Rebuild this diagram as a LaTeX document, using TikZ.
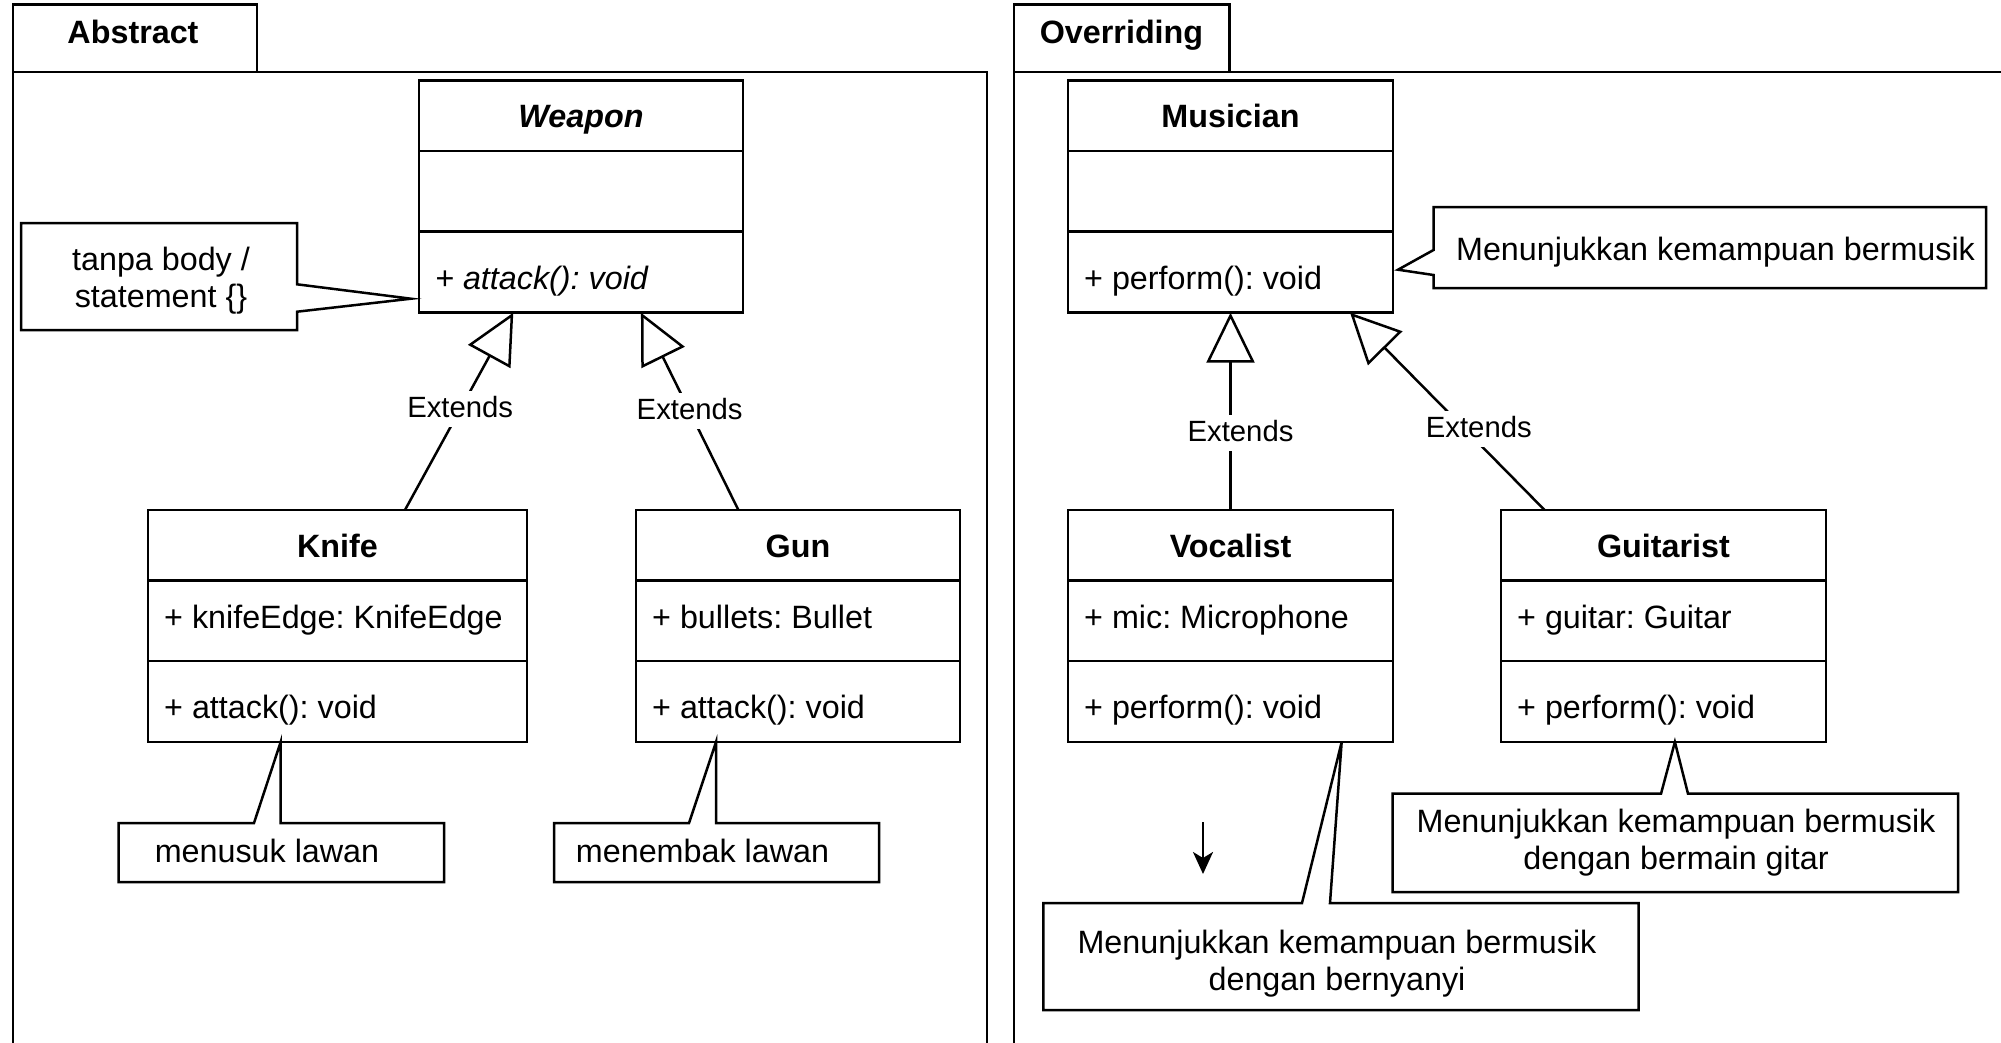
\documentclass[tikz,border=0pt]{standalone}
\usepackage{fontspec}
\setmainfont{Liberation Sans}
\usetikzlibrary{arrows.meta,calc}
\frenchspacing
% line strut: 24pt above and 8pt below the baseline
\newcommand\ls{\rule[-8pt]{0pt}{32pt}}
% one UML class: id, x, y (top left), width, title, attribute, operation
\newcommand\umlclass[7]{%
  \node[comp, minimum width=#4, minimum height=70.5] (#1-h) at (#2,#3) {};
  \node[comp, minimum width=#4, minimum height=80.5] (#1-a) at (#1-h.south west) {};
  \node[comp, minimum width=#4, minimum height=81] (#1-m) at (#1-a.south west) {};
  \node[ctitle] (#1-t) at ($(#1-h.north)+(0,47)$) {#5};
  \node[member] (#1-f) at ($(#1-h.north west)+(16,118)$) {#6};
  \node[member] (#1-o) at ($(#1-h.north west)+(16,208.5)$) {#7};
}
\begin{document}
\begin{tikzpicture}[x=1pt,y=-1pt,
  lw/.style={line width=2.5pt},
  comp/.style={draw, lw, anchor=north west, inner sep=0pt, outer sep=0pt},
  panel/.style={draw, lw, anchor=north west, inner sep=0pt, outer sep=0pt},
  txt/.style={inner sep=0pt, font=\fontsize{32.3}{37}\selectfont},
  ctitle/.style={txt, anchor=base, font=\fontsize{32.3}{37}\selectfont\bfseries},
  member/.style={txt, anchor=base west},
  notearea/.style={anchor=north west, inner sep=0pt, outer sep=0pt},
  notetext/.style={txt, align=center},
  calloutline/.style={draw, lw, line join=miter},
  ext/.style={draw, lw, -{Triangle[fill=white, length=50pt, width=48pt]}},
  extlabel/.style={fill=white, inner sep=4pt, text height=22pt, text depth=6pt,
                   font=\fontsize{29.3}{34}\selectfont},
]
\useasboundingbox (0,0) rectangle (2001,1042);
\fill[white] (0,0) rectangle (2001,1042);
\clip (0,0) rectangle (2001,1042);

% ---------- panels ----------
\node[panel, minimum width=974, minimum height=1100] (absframe) at (13,72) {};
\node[panel, minimum width=244, minimum height=67.3] (abstab) at (13,4.7) {};
\node[ctitle] (abstab-t) at (133,43.3) {Abstract};
\node[panel, minimum width=1100, minimum height=1100] (ovrframe) at (1014,72) {};
\node[panel, minimum width=215.6, minimum height=67.3] (ovrtab) at (1014,4.7) {};
\node[ctitle] (ovrtab-t) at (1121.5,43.3) {Overriding};

% ---------- classes ----------
\umlclass{weapon}{419}{80.7}{324}{\itshape Weapon}{}{\itshape + attack(): void}
\umlclass{knife}{148}{510}{379}{Knife}{+ knifeEdge: KnifeEdge}{+ attack(): void}
\umlclass{gun}{636}{510}{324}{Gun}{+ bullets: Bullet}{+ attack(): void}
\umlclass{musician}{1068}{80.7}{325}{Musician}{}{+ perform(): void}
\umlclass{vocalist}{1068}{510}{325}{Vocalist}{+ mic: Microphone}{+ perform(): void}
\umlclass{guitarist}{1501}{510}{325}{Guitarist}{+ guitar: Guitar}{+ perform(): void}

% ---------- generalisations ----------
\draw[ext] ($(knife-h.north west)!0.678!(knife-h.north east)$)
  -- node[extlabel, pos=0.51] (ex1) {Extends}
  ($(weapon-m.south west)!0.291!(weapon-m.south east)$);
\draw[ext] ($(gun-h.north west)!0.316!(gun-h.north east)$)
  -- node[extlabel, pos=0.5] (ex2) {Extends}
  ($(weapon-m.south west)!0.685!(weapon-m.south east)$);
\draw[ext] (vocalist-h.north)
  -- node[extlabel, pos=0.39, xshift=10pt] (ex3) {Extends}
  (musician-m.south);
\draw[ext] ($(guitarist-h.north west)!0.134!(guitarist-h.north east)$)
  -- node[extlabel, pos=0.41, xshift=14pt] (ex4) {Extends}
  ($(musician-m.south west)!0.868!(musician-m.south east)$);

% ---------- notes ----------
\node[notearea, minimum width=276, minimum height=107] (nt1) at (21,223) {};
\node[notetext] (nt1-x) at (161,280.9) {\ls tanpa body /\\\ls statement \{\}};
\draw[calloutline] (nt1.north west) -- (nt1.north east)
  -- ($(nt1.north east)+(0,61.3)$) -- ($(weapon-m.south west)+(-8,-14)$)
  -- ($(nt1.north east)+(0,88.7)$) -- (nt1.south east) -- (nt1.south west) -- cycle;

\node[notearea, minimum width=325.4, minimum height=59] (nt2) at (118.6,823) {};
\node[notetext, anchor=base] (nt2-x) at (267,862) {menusuk lawan};
\draw[calloutline] (nt2.north west) -- ($(nt2.north west)+(135.4,0)$)
  -- ($(knife-m.south west)!0.35!(knife-m.south east)$)
  -- ($(nt2.north west)+(162,0)$) -- (nt2.north east) -- (nt2.south east)
  -- (nt2.south west) -- cycle;

\node[notearea, minimum width=325, minimum height=59] (nt3) at (554,823) {};
\node[notetext, anchor=base] (nt3-x) at (702.5,862) {menembak lawan};
\draw[calloutline] (nt3.north west) -- ($(nt3.north west)+(135,0)$)
  -- ($(gun-m.south west)!0.247!(gun-m.south east)$)
  -- ($(nt3.north west)+(162,0)$) -- (nt3.north east) -- (nt3.south east)
  -- (nt3.south west) -- cycle;

\node[notearea, minimum width=552.5, minimum height=81] (nt4) at (1433.5,207) {};
\node[notetext, anchor=base] (nt4-x) at (1715.5,260) {Menunjukkan kemampuan bermusik};
\draw[calloutline] (nt4.north west) -- (nt4.north east) -- (nt4.south east)
  -- (nt4.south west) -- ($(nt4.north west)+(0,68)$)
  -- ($(musician-m.south east)+(5,-43)$) -- ($(nt4.north west)+(0,43)$) -- cycle;

\node[notearea, minimum width=595.2, minimum height=107] (nt5) at (1043.4,903) {};
\node[notetext] (nt5-x) at (1337,964.3)
  {\ls Menunjukkan kemampuan bermusik\\\ls dengan bernyanyi};
\draw[calloutline] (nt5.north west) -- ($(nt5.north west)+(258.6,0)$)
  -- ($(vocalist-m.south west)!0.842!(vocalist-m.south east)$)
  -- ($(nt5.north west)+(286.6,0)$) -- (nt5.north east) -- (nt5.south east)
  -- (nt5.south west) -- cycle;

\node[notearea, minimum width=565.3, minimum height=98.3] (nt6) at (1392.7,793.7) {};
\node[notetext] (nt6-x) at (1676,843.3)
  {\ls Menunjukkan kemampuan bermusik\\\ls dengan bermain gitar};
\draw[calloutline] (nt6.north west) -- ($(nt6.north west)+(268.3,0)$)
  -- ($(guitarist-m.south west)!0.535!(guitarist-m.south east)$)
  -- ($(nt6.north west)+(295.3,0)$) -- (nt6.north east) -- (nt6.south east)
  -- (nt6.south west) -- cycle;

% ---------- loose arrow ----------
\coordinate (sa) at (1203,822);
\coordinate (sb) at (1203,874);
\draw[lw, -{Stealth[length=22pt, width=20pt, inset=6pt]}] (sa) -- (sb);
\end{tikzpicture}
\end{document}
